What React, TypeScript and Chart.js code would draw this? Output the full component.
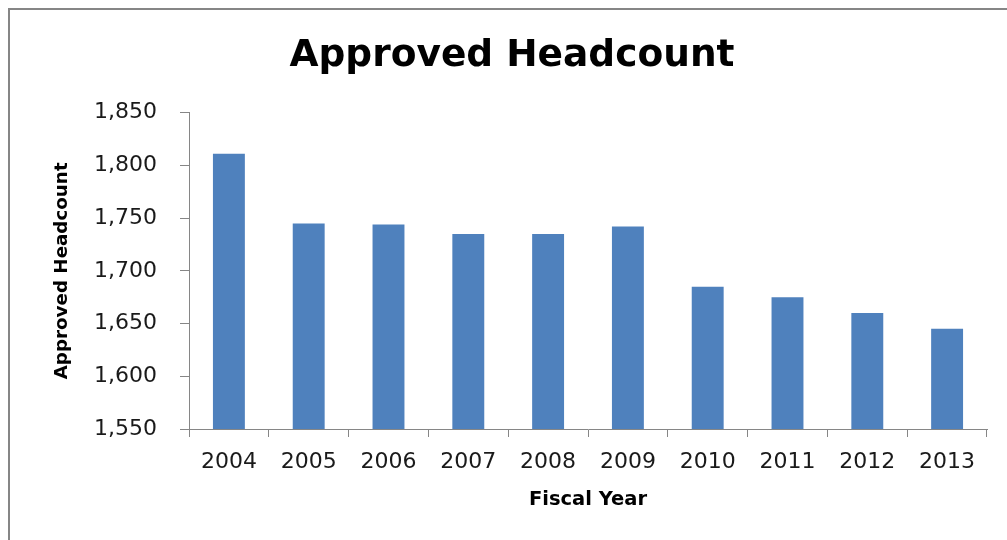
import { useEffect, useRef } from 'react';
import { Chart, registerables } from 'chart.js';

Chart.register(...registerables);

const categories = ['2004', '2005', '2006', '2007', '2008', '2009', '2010', '2011', '2012', '2013'];
const headcount = [1811, 1745, 1744, 1735, 1735, 1742, 1685, 1675, 1660, 1645];
const yMin = 1550;
const yMax = 1850;
const yStep = 50;
const chartTitle = 'Approved Headcount';
const xTitle = 'Fiscal Year';
const yTitle = 'Approved Headcount';

const FAMILY = "'DejaVu Sans'";
const AXIS_GRAY = '#868686';

export default function App() {
  const ref = useRef<HTMLCanvasElement>(null);

  useEffect(() => {
    const chart = new Chart(ref.current as HTMLCanvasElement, {
      type: 'bar',
      data: {
        labels: categories,
        datasets: [
          {
            data: headcount,
            backgroundColor: '#4F81BD',
            borderWidth: 0,
            barPercentage: 0.4,
            categoryPercentage: 1,
            yAxisID: 'y',
          },
        ],
      },
      options: {
        animation: false,
        responsive: false,
        layout: { padding: 0 },
        plugins: {
          legend: { display: false },
          tooltip: { enabled: false },
          title: {
            display: true,
            text: chartTitle,
            color: '#000',
            font: { family: FAMILY, size: 37.5, weight: 'bold' },
            padding: { top: 23.5, bottom: 34.2 },
          },
        },
        scales: {
          x: {
            grid: { drawOnChartArea: false, tickLength: 8, color: AXIS_GRAY, offset: true },
            border: { color: AXIS_GRAY, width: 1 },
            ticks: {
              color: '#1a1a1a',
              font: { family: FAMILY, size: 22 },
              padding: 12,
              maxRotation: 0,
              autoSkip: false,
            },
            title: {
              display: true,
              text: xTitle,
              color: '#000',
              font: { family: FAMILY, size: 19.5, weight: 'bold' },
              padding: { top: 0, bottom: 28 },
            },
            afterFit: (s: any) => {
              s.height = 111;
            },
          },
          y: {
            position: 'left',
            min: yMin,
            max: yMax,
            grid: { drawOnChartArea: false, tickLength: 9, color: AXIS_GRAY },
            border: { color: AXIS_GRAY, width: 1 },
            ticks: {
              stepSize: yStep,
              color: '#1a1a1a',
              font: { family: FAMILY, size: 22 },
              padding: 23,
              callback: (v: any) => Number(v).toLocaleString('en-US'),
            },
            title: {
              display: true,
              text: yTitle,
              color: '#000',
              font: { family: FAMILY, size: 18.3, weight: 'bold' },
              padding: { top: 41, bottom: 0 },
            },
            afterFit: (s: any) => {
              s.width = 179;
            },
          },
          spacer: {
            type: 'linear',
            position: 'right',
            display: true,
            grid: { display: false, drawTicks: false },
            border: { display: false },
            ticks: { display: false },
            title: { display: false },
            afterFit: (s: any) => {
              s.width = 27;
            },
          },
        },
      },
    });
    return () => chart.destroy();
  }, []);

  return (
    <div
      style={{
        position: 'fixed',
        left: 8,
        top: 8,
        width: 999,
        height: 532,
        boxSizing: 'border-box',
        borderLeft: `2px solid ${AXIS_GRAY}`,
        borderTop: `2px solid ${AXIS_GRAY}`,
        overflow: 'hidden',
        background: '#fff',
      }}
    >
      <canvas ref={ref} width={1004} height={530} style={{ display: 'block', width: 1004, height: 530 }} />
    </div>
  );
}
